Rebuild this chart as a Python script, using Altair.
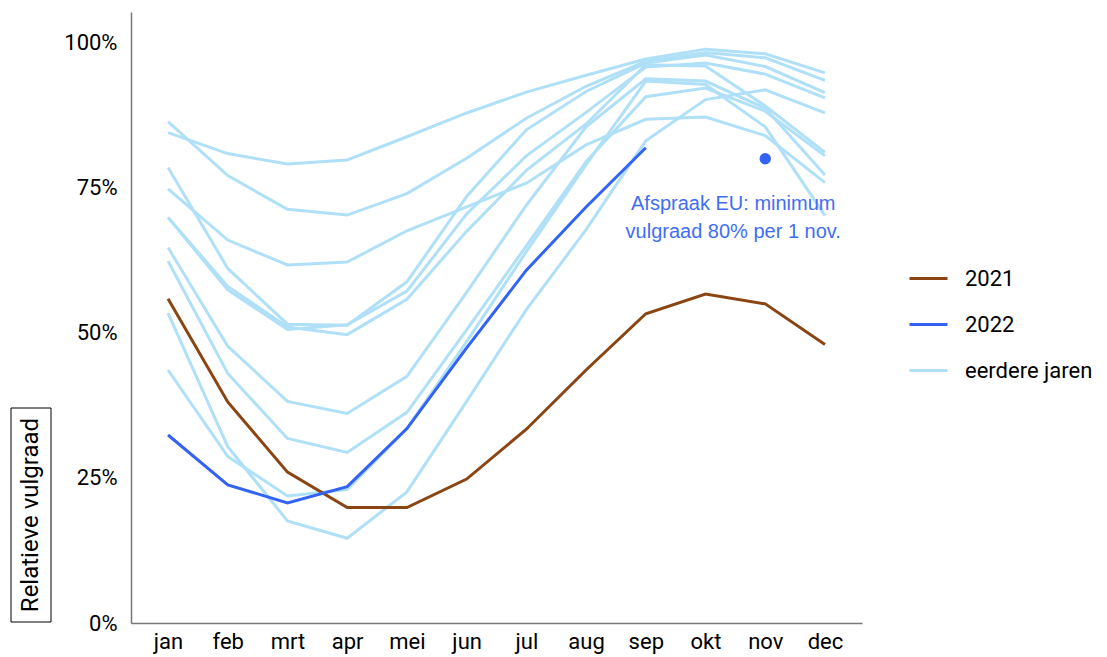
import altair as alt
import pandas as pd

months = ["jan", "feb", "mrt", "apr", "mei", "jun", "jul", "aug", "sep", "okt", "nov", "dec"]

y2021 = [55.9, 38.1, 26.0, 19.9, 19.9, 24.8, 33.4, 43.6, 53.3, 56.7, 55.0, 48.0]
y2022 = [32.4, 23.8, 20.7, 23.5, 33.5, 47.4, 60.8, 71.7, 81.9]

earlier_a = [84.5, 80.9, 79.1, 79.8, 83.8, 87.9, 91.5, 94.4, 97.2, 98.9, 98.1, 94.8]
earlier_b = [86.4, 77.1, 71.3, 70.3, 74.0, 80.1, 87.0, 92.5, 96.8, 98.3, 97.4, 93.5]
earlier_c = [74.8, 66.0, 61.7, 62.2, 67.6, 71.7, 75.8, 82.4, 86.8, 87.2, 84.0, 75.9]
earlier_d = [78.5, 61.1, 51.5, 51.3, 58.8, 73.5, 85.0, 91.6, 96.5, 97.9, 95.9, 91.4]
earlier_e = [69.9, 58.0, 51.0, 49.7, 55.8, 67.5, 78.0, 86.0, 96.2, 96.0, 89.1, 81.1]
earlier_f = [69.9, 57.4, 50.6, 51.4, 57.2, 70.5, 80.5, 88.0, 95.8, 96.5, 94.6, 90.5]
earlier_g = [64.7, 47.7, 38.2, 36.1, 42.5, 57.0, 72.0, 85.5, 93.8, 93.4, 88.7, 77.2]
earlier_h = [62.4, 43.0, 31.8, 29.4, 36.3, 50.5, 65.0, 79.5, 90.7, 92.2, 88.2, 80.5]
earlier_i = [53.4, 30.4, 17.6, 14.6, 22.6, 38.2, 54.0, 67.8, 83.1, 90.2, 91.9, 87.9]
earlier_j = [43.6, 28.7, 21.9, 23.0, 33.5, 48.5, 64.0, 79.0, 93.4, 92.8, 85.5, 70.2]

earlier_years = [earlier_a, earlier_b, earlier_c, earlier_d, earlier_e,
                 earlier_f, earlier_g, earlier_h, earlier_i, earlier_j]

series_names = ["2021", "2022", "eerdere jaren"]
series_colors = ["#8b4513", "#3263f5", "#b0e0f7"]

eu_month = "nov"
eu_target = 80
eu_text = ["Afspraak EU: minimum", "vulgraad 80% per 1 nov."]
y_title = "Relatieve vulgraad"

rows = []
for k, vals in enumerate(earlier_years):
    for m, v in zip(months, vals):
        rows.append({"month": m, "value": v, "series": "eerdere jaren", "line": f"e{k}"})
df_earlier = pd.DataFrame(rows)
df_2021 = pd.DataFrame({"month": months, "value": y2021, "series": "2021", "line": "2021"})
df_2022 = pd.DataFrame({"month": months[:len(y2022)], "value": y2022, "series": "2022", "line": "2022"})
df_point = pd.DataFrame({"month": [eu_month], "value": [eu_target]})
df_text = pd.DataFrame({"month": [eu_month], "value": [eu_target], "label": [eu_text]})

x_enc = alt.X("month:N", sort=months,
              scale=alt.Scale(type="point", domain=months, padding=0.62),
              axis=alt.Axis(title=None, labelAngle=0, ticks=False, labelPadding=8,
                            labelFontSize=22, domainColor="#777777", domainWidth=1.5))
y_enc = alt.Y("value:Q",
              scale=alt.Scale(domain=[0, 105.3], nice=False, zero=True),
              axis=alt.Axis(title=None, values=[0, 25, 50, 75, 100], labelExpr="datum.value + '%'",
                            ticks=False, grid=False, labelPadding=14, labelFontSize=22,
                            domainColor="#777777", domainWidth=1.5))
color_enc = alt.Color("series:N",
                      scale=alt.Scale(domain=series_names, range=series_colors),
                      legend=alt.Legend(title=None, orient="none", legendX=777, legendY=246,
                                        symbolType="stroke", symbolSize=1444, symbolStrokeWidth=3,
                                        labelFontSize=22, rowPadding=14, labelOffset=16,
                                        padding=0, labelFont="Roboto", labelColor="black"))

def line_layer(d):
    return alt.Chart(d).mark_line(strokeWidth=3).encode(
        x=x_enc, y=y_enc, color=color_enc, detail="line:N")

earlier_layer = line_layer(df_earlier)
l2021 = line_layer(df_2021)
l2022 = line_layer(df_2022)

point = alt.Chart(df_point).mark_circle(size=130, opacity=1, color="#3263f5").encode(x=x_enc, y=y_enc)
annot = alt.Chart(df_text).mark_text(font="Liberation Sans", fontSize=20, color="#3f6ef5",
                                     align="center", baseline="middle", dx=-32, dy=45,
                                     lineHeight=28).encode(x=x_enc, y=y_enc, text="label")

box = alt.Chart(df_point).mark_rect(fill="white", stroke="black", strokeWidth=1).encode(
    x=alt.value(-120), x2=alt.value(-80), y=alt.value(396), y2=alt.value(610))
title_txt = alt.Chart(pd.DataFrame({"t": [y_title]})).mark_text(
    font="Roboto", fontSize=24, angle=270, align="center", baseline="middle", color="black").encode(
    x=alt.value(-100), y=alt.value(503), text="t:N")

chart = alt.layer(earlier_layer, l2021, l2022, point, annot, box, title_txt).properties(
    width=731, height=611,
    autosize=alt.AutoSizeParams(type="none"),
    padding={"left": 123, "top": 4, "right": 237, "bottom": 40},
).configure_view(stroke=None).configure_axis(
    labelFont="Roboto", labelColor="black"
)

chart.save("out.html", embed_options={"renderer": "svg", "actions": False})
